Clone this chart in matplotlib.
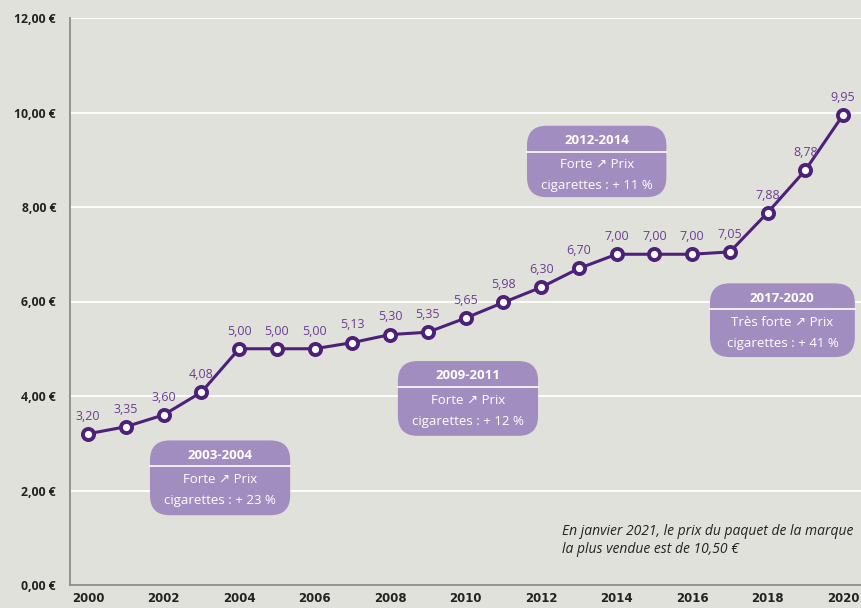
import matplotlib
matplotlib.use("Agg")
import matplotlib.pyplot as plt
from matplotlib.patches import FancyBboxPatch

years = list(range(2000, 2021))
prices = [3.20, 3.35, 3.60, 4.08, 5.00, 5.00, 5.00, 5.13, 5.30, 5.35, 5.65,
          5.98, 6.30, 6.70, 7.00, 7.00, 7.00, 7.05, 7.88, 8.78, 9.95]
yticks = [0, 2, 4, 6, 8, 10, 12]
xticks = list(range(2000, 2021, 2))

box_titles = ["2003-2004", "2009-2011", "2012-2014", "2017-2020"]
box_line1 = ["Forte \u2197 Prix", "Forte \u2197 Prix", "Forte \u2197 Prix", "Tr\u00e8s forte \u2197 Prix"]
box_line2 = ["cigarettes : + 23 %", "cigarettes : + 12 %", "cigarettes : + 11 %", "cigarettes : + 41 %"]
# box placement in axes fraction (x0, y0, w, h)
box_pos = [(0.101, 0.123, 0.177, 0.132),
           (0.414, 0.263, 0.177, 0.132),
           (0.577, 0.684, 0.176, 0.126),
           (0.808, 0.402, 0.183, 0.130)]

note = "En janvier 2021, le prix du paquet de la marque\nla plus vendue est de 10,50 \u20ac"

bg = "#e1e1dc"
purple = "#4e2178"
labcol = "#6a3d92"
boxcol = "#a28dc0"
fonts = ["Open Sans", "DejaVu Sans"]

fig = plt.figure(figsize=(8.62, 6.08), dpi=100, facecolor=bg)
ax = fig.add_axes([70 / 862, 23 / 608, 792 / 862, 567 / 608])
ax.set_facecolor(bg)

ax.set_xlim(1999.52, 2020.5)
ax.set_ylim(0, 12)
for y in yticks[1:]:
    ax.axhline(y, color="white", lw=1.3, zorder=1)

ax.plot(years, prices, color=purple, lw=2.2, zorder=3,
        marker="o", markersize=8, markerfacecolor="white",
        markeredgecolor=purple, markeredgewidth=2.8)
for x, p in zip(years, prices):
    ax.annotate(("%.2f" % p).replace(".", ","), (x, p), xytext=(0, 8),
                textcoords="offset points", ha="center", va="bottom",
                color=labcol, fontsize=9, family=fonts, zorder=4)

ax.set_yticks(yticks)
ax.set_yticklabels([("%.2f \u20ac" % v).replace(".", ",") for v in yticks],
                   fontsize=8.8, fontweight="bold", family=fonts)
ax.set_xticks(xticks)
ax.set_xticklabels([str(v) for v in xticks], fontsize=8.5, fontweight="bold",
                   family="DejaVu Sans")
ax.tick_params(length=0, pad=10, colors="#222222")
ax.tick_params(axis="x", pad=5)
for s in ["top", "right"]:
    ax.spines[s].set_visible(False)
for s in ["left", "bottom"]:
    ax.spines[s].set_color("#8c8c8c")
    ax.spines[s].set_linewidth(1.3)

for t, l1, l2, (x0, y0, w, h) in zip(box_titles, box_line1, box_line2, box_pos):
    patch = FancyBboxPatch((x0, y0), w, h, boxstyle="round,pad=0,rounding_size=0.025",
                           transform=ax.transAxes, facecolor=boxcol,
                           edgecolor="none", zorder=5, mutation_aspect=792 / 567)
    ax.add_patch(patch)
    cx = x0 + w / 2
    top = y0 + h
    ax.text(cx, top - 0.026, t, transform=ax.transAxes, ha="center", va="center",
            color="white", fontsize=9.5, fontweight="bold", family=fonts, zorder=6)
    ax.plot([x0, x0 + w], [top - 0.046, top - 0.046], transform=ax.transAxes,
            color="white", lw=1.2, zorder=6)
    ax.text(cx, top - 0.069, l1, transform=ax.transAxes, ha="center", va="center",
            color="white", fontsize=9.5, family=fonts, zorder=6)
    ax.text(cx, top - 0.106, l2, transform=ax.transAxes, ha="center", va="center",
            color="white", fontsize=9.5, family=fonts, zorder=6)

ax.text(0.621, 0.078, note, transform=ax.transAxes, ha="left", va="center",
        fontsize=10, style="italic", family=fonts, color="#222222",
        linespacing=1.3)

fig.savefig("out.png", dpi=100, facecolor=bg)
